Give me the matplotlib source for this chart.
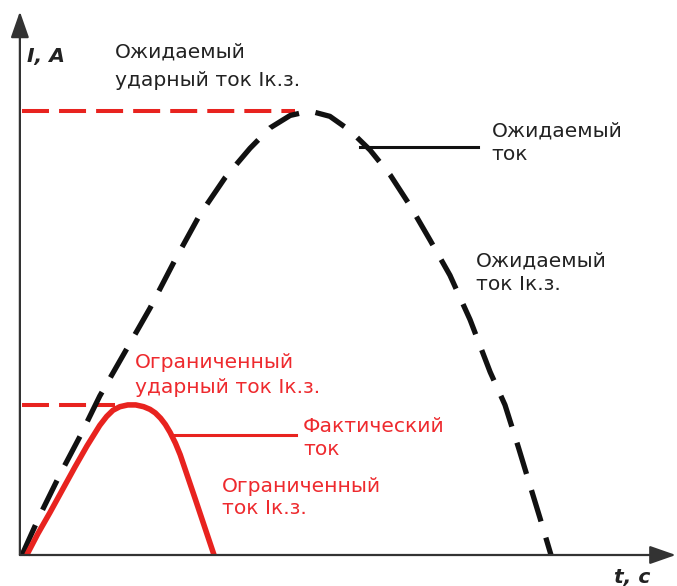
import matplotlib
matplotlib.use("Agg")
import matplotlib.pyplot as plt

# prospective (unlimited) short-circuit current, t in ms, I in kA
t_prosp = [0.0, 0.34, 0.72, 1.10, 1.47, 1.95, 2.42, 2.89, 3.36, 3.84, 4.31, 4.69,
           5.07, 5.44, 5.82, 6.20, 6.58, 6.96, 7.33, 7.71, 8.09, 8.47, 8.85, 9.13,
           9.38, 9.60, 9.79, 10.0]
i_prosp = [0.0, 4.5, 9.1, 13.4, 17.9, 22.9, 27.8, 33.2, 38.3, 42.5, 45.8, 48.1,
           49.5, 50.0, 49.4, 47.8, 45.6, 42.8, 39.4, 35.5, 31.5, 26.5, 20.6, 16.9,
           12.2, 7.9, 4.2, 0.0]

# actual (limited) current through the fuse
t_lim = [0.09, 0.30, 0.53, 0.76, 1.00, 1.23, 1.47, 1.60, 1.72, 1.85, 2.00, 2.15,
         2.30, 2.42, 2.52, 2.62, 2.71, 2.80, 2.90, 2.99, 3.27, 3.63]
i_lim = [0.0, 2.4, 4.8, 7.3, 9.9, 12.3, 14.6, 15.6, 16.3, 16.7, 16.9, 16.9,
         16.7, 16.4, 16.0, 15.4, 14.7, 13.8, 12.6, 11.3, 6.4, 0.0]

peak_prosp = 50.0
peak_lim = 16.9

PX_T = 52.9   # pixels per ms
PX_I = 8.88   # pixels per kA

RED = "#e8231f"
RED_TXT = "#ee2a2e"
BLACK = "#111111"
TXT = "#222222"

fig = plt.figure(figsize=(6.77, 5.86), dpi=100)
ax = fig.add_axes([22 / 677, 31 / 586, 655 / 677, 555 / 586])
ax.set_xlim(0, 655 / PX_T)
ax.set_ylim(0, 555 / PX_I)
ax.axis("off")

# axes with arrows
arrow = dict(arrowstyle="-|>,head_length=0.8,head_width=0.28", color="#333333",
             lw=1.6, mutation_scale=20, shrinkA=0, shrinkB=0)
ax.annotate("", xy=(-0.04, 61.2), xytext=(-0.04, 0), arrowprops=arrow,
            annotation_clip=False)
ax.annotate("", xy=(12.36, 0), xytext=(-0.04, 0), arrowprops=arrow,
            annotation_clip=False)

# peak levels
ax.plot([0, 5.16], [peak_prosp, peak_prosp], color=RED, lw=2.9,
        dashes=(6.7, 2.5), dash_capstyle="butt")
ax.plot([0, 1.76], [peak_lim, peak_lim], color=RED, lw=2.9,
        dashes=(6.7, 2.5), dash_capstyle="butt")

# curves
ax.plot(t_prosp, i_prosp, color=BLACK, lw=3.8, dashes=(6.2, 3.2),
        dash_capstyle="butt", dash_joinstyle="round", clip_on=False)
ax.plot(t_lim, i_lim, color=RED, lw=4.0, solid_joinstyle="round",
        solid_capstyle="butt", clip_on=False)

# leader lines
ax.plot([6.39, 8.62], [45.9, 45.9], color=BLACK, lw=2.2)
ax.plot([2.89, 5.18], [13.5, 13.5], color=RED, lw=2.2)


def label(t, i, lines, gap, color):
    for k, s in enumerate(lines):
        ax.annotate(s, xy=(t, i), xytext=(0, -k * gap), textcoords="offset pixels",
                    fontsize=14.6, color=color, ha="left", va="baseline",
                    annotation_clip=False)


label(1.76, 56.0, ["Ожидаемый", "ударный ток Iк.з."], 28, TXT)
label(8.88, 47.1, ["Ожидаемый", "ток"], 23, TXT)
label(8.58, 32.5, ["Ожидаемый", "ток Iк.з."], 24, TXT)
label(2.14, 21.1, ["Ограниченный", "ударный ток Iк.з."], 25, RED_TXT)
label(5.31, 13.9, ["Фактический", "ток"], 23, RED_TXT)
label(3.78, 7.1, ["Ограниченный", "ток Iк.з."], 22, RED_TXT)

ax.text(0.09, 55.5, "I, A", fontsize=14.6, fontweight="bold", fontstyle="italic",
        color=TXT, ha="left", va="baseline")
ax.text(11.2, -3.15, "t, c", fontsize=14.6, fontweight="bold", fontstyle="italic",
        color=TXT, ha="left", va="baseline", clip_on=False)

fig.savefig("out.png", dpi=100)
